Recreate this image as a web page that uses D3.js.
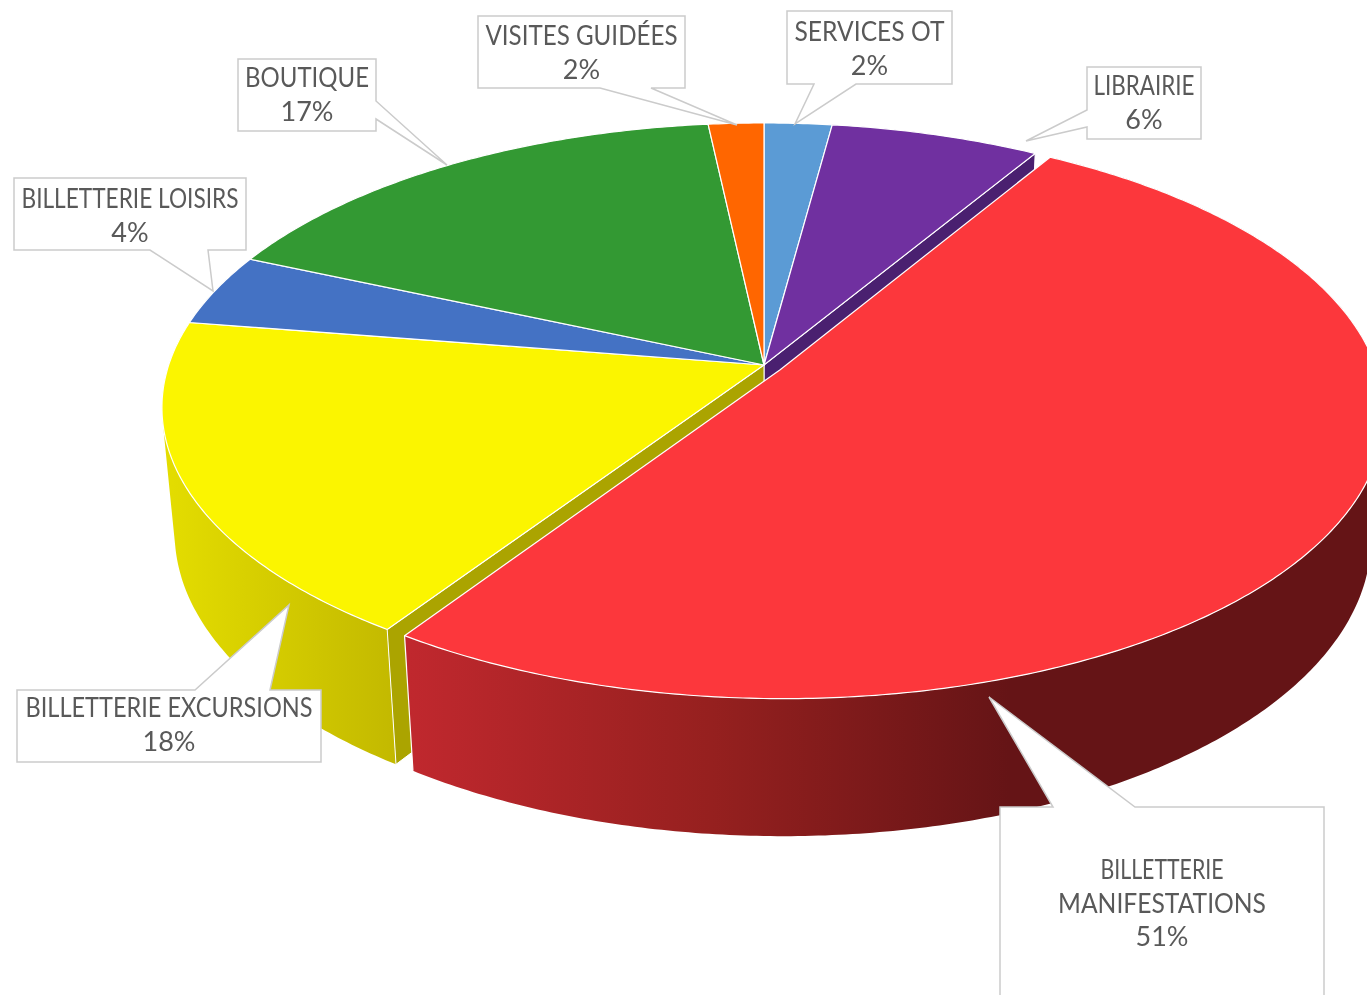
<!DOCTYPE html>
<html>
<head>
<meta charset="utf-8">
<script src="https://cdn.jsdelivr.net/npm/d3@7"></script>
<style>
    html, body { margin: 0; padding: 0; background: #fff; overflow: hidden; }
    svg { display: block; filter: blur(0.4px); }
</style>
</head>
<body>
<svg id="chart"></svg>
<script>
    var categories = ['SERVICES OT', 'LIBRAIRIE', 'BILLETTERIE MANIFESTATIONS', 'BILLETTERIE EXCURSIONS', 'BILLETTERIE LOISIRS', 'BOUTIQUE', 'VISITES GUIDÉES'];
    var values = [2.1, 6.49, 50.76, 18.15, 4.1, 16.68, 1.72];
    var topColors = ['#5b9bd5', '#7030a0', '#fc373c', '#fbf500', '#4472c4', '#339933', '#ff6600'];
    var labelLines = [['SERVICES OT'], ['LIBRAIRIE'], ['BILLETTERIE', 'MANIFESTATIONS'], ['BILLETTERIE EXCURSIONS'], ['BILLETTERIE LOISIRS'], ['BOUTIQUE'], ['VISITES GUIDÉES']];

    // width the label lines take in the reference font
    var lineWidths = [[150], [101], [123, 208], [287], [217], [124], [192]];

    // callout boxes: x0, y0, x1, y1, then wedge base a, b along the side and the tip
    var calloutBoxes = [
        { x0: 787, y0: 11, x1: 952, y1: 84, side: 'bottom', a: 814, b: 856, tip: [795, 124] },
        { x0: 1087, y0: 67, x1: 1201, y1: 139, side: 'left', a: 110, b: 127, tip: [1026, 141] },
        { x0: 1000, y0: 807, x1: 1324, y1: 1010, side: 'top', a: 1053, b: 1135, tip: [989, 697] },
        { x0: 17, y0: 690, x1: 321, y1: 762, side: 'top', a: 195, b: 270, tip: [289, 605] },
        { x0: 14, y0: 178, x1: 246, y1: 250, side: 'bottom', a: 150, b: 208, tip: [213, 291] },
        { x0: 238, y0: 59, x1: 376, y1: 131, side: 'right', a: 101, b: 119, tip: [447, 165] },
        { x0: 478, y0: 16, x1: 685, y1: 88, side: 'bottom', a: 600, b: 651, tip: [737, 125] }
    ];
    var textBaselines = [41, 95, 879, 717, 208, 87, 45];

    var width = 1367, height = 995;
    var cx = 764, cy = 365;
    var radiusX = 595.3, radiusY = 278.2, depth = 126.5;
    var tiltK = 0.1494, depthK = 0.021;
    var explodeIndex = 2, explode = 0.032;

    var svg = d3.select('#chart').attr('width', width).attr('height', height);
    var defs = svg.append('defs');

    var arcs = d3.pie().sort(null).startAngle(0).endAngle(2 * Math.PI)(values);

    // disc coordinates (u right, v back, h down) to the screen
    function project(u, v, h) {
        var w = 1 + tiltK * v + depthK * h;
        return [cx + radiusX * u / w, cy + (-radiusY * v + depth * h) / w];
    }

    function offset(i) {
        if (i !== explodeIndex) return [0, 0];
        var mid = (arcs[i].startAngle + arcs[i].endAngle) / 2;
        return [explode * Math.sin(mid), explode * Math.cos(mid)];
    }

    function point(i, r, angle, h) {
        var o = offset(i);
        return project(o[0] + r * Math.sin(angle), o[1] + r * Math.cos(angle), h);
    }

    function rim(i, from, to, h) {
        var n = Math.max(2, Math.ceil((to - from) / 0.01));
        return d3.range(n + 1).map(function (k) {
            return point(i, 1, from + (to - from) * k / n, h);
        });
    }

    var line = d3.line().curve(d3.curveLinear);

    // outer wall as a strip of small quads, all wound the same way so the
    // part past the silhouette does not cancel out under the nonzero rule
    function wallPath(i) {
        var top = rim(i, arcs[i].startAngle, arcs[i].endAngle, 0);
        var bottom = rim(i, arcs[i].startAngle, arcs[i].endAngle, 1);
        return d3.range(top.length - 1).map(function (k) {
            var quad = [top[k], top[k + 1], bottom[k + 1], bottom[k]];
            if (d3.polygonArea(quad) < 0) quad.reverse();
            return line(quad) + 'Z';
        }).join('');
    }

    function gradient(id, x1, x2, stops) {
        var g = defs.append('linearGradient')
            .attr('id', id)
            .attr('gradientUnits', 'userSpaceOnUse')
            .attr('x1', x1).attr('x2', x2).attr('y1', 0).attr('y2', 0);
        stops.forEach(function (s) {
            g.append('stop').attr('offset', s[0]).attr('stop-color', s[1]);
        });
    }

    gradient('wallYellow', 165, 395, [[0, '#e4dd00'], [1, '#c3b900']]);
    gradient('wallRed', 410, 1010, [[0, '#c0282e'], [0.5, '#96201f'], [1, '#651416']]);

    var walls = svg.append('g');
    var yellow = arcs[3], red = arcs[2], purple = arcs[1];

    // inner cut faces seen through the exploded gap
    walls.append('path')
        .attr('d', line([point(1, 0, 0, 0), point(1, 1, purple.endAngle, 0), point(1, 1, purple.endAngle, 1), point(1, 0, 0, 1)]) + 'Z')
        .attr('fill', '#4a2070')
        .attr('stroke', '#fff').attr('stroke-width', 1);

    walls.append('path')
        .attr('d', wallPath(3))
        .attr('fill', 'url(#wallYellow)');

    walls.append('path')
        .attr('d', line([point(3, 0, 0, 0), point(3, 1, yellow.startAngle, 0), point(3, 1, yellow.startAngle, 1), point(3, 0, 0, 1)]) + 'Z')
        .attr('fill', '#aba400')
        .attr('stroke', '#fff').attr('stroke-width', 1);

    walls.append('path')
        .attr('d', wallPath(2))
        .attr('fill', 'url(#wallRed)');

    walls.append('path')
        .attr('d', line([point(2, 1, red.endAngle, 0), point(2, 1, red.endAngle, 1)]))
        .attr('fill', 'none')
        .attr('stroke', '#fff').attr('stroke-width', 1.2);

    // top faces
    svg.append('g').selectAll('path')
        .data(arcs)
        .enter().append('path')
        .attr('d', function (d, i) {
            return line([point(i, 0, 0, 0)].concat(rim(i, d.startAngle, d.endAngle, 0))) + 'Z';
        })
        .attr('fill', function (d, i) { return topColors[i]; })
        .attr('stroke', '#fff')
        .attr('stroke-width', 1.2)
        .attr('stroke-linejoin', 'round');

    // callouts
    function calloutPath(b) {
        var p = [[b.x0, b.y0]];
        if (b.side === 'top') p.push([b.a, b.y0], b.tip, [b.b, b.y0]);
        p.push([b.x1, b.y0]);
        if (b.side === 'right') p.push([b.x1, b.a], b.tip, [b.x1, b.b]);
        p.push([b.x1, b.y1]);
        if (b.side === 'bottom') p.push([b.b, b.y1], b.tip, [b.a, b.y1]);
        p.push([b.x0, b.y1]);
        if (b.side === 'left') p.push([b.x0, b.b], b.tip, [b.x0, b.a]);
        return line(p) + 'Z';
    }

    var callouts = svg.append('g').selectAll('g')
        .data(categories)
        .enter().append('g');

    callouts.append('path')
        .attr('d', function (d, i) { return calloutPath(calloutBoxes[i]); })
        .attr('fill', '#fff')
        .attr('stroke', '#cbcbcb')
        .attr('stroke-width', 1.5);

    var total = d3.sum(values);

    callouts.append('text')
        .attr('text-anchor', 'middle')
        .attr('font-family', 'Lato, sans-serif')
        .attr('font-size', 27)
        .attr('fill', '#595959')
        .each(function (d, i) {
            var box = calloutBoxes[i];
            var mid = (box.x0 + box.x1) / 2;
            var lines = labelLines[i].concat([Math.round(values[i] / total * 100) + '%']);
            d3.select(this).selectAll('tspan')
                .data(lines)
                .enter().append('tspan')
                .attr('x', mid)
                .attr('y', function (t, k) { return textBaselines[i] + k * 33.5; })
                .attr('textLength', function (t, k) { return lineWidths[i][k]; })
                .attr('lengthAdjust', function (t, k) { return lineWidths[i][k] ? 'spacingAndGlyphs' : null; })
                .text(function (t) { return t; });
        });
</script>
</body>
</html>
